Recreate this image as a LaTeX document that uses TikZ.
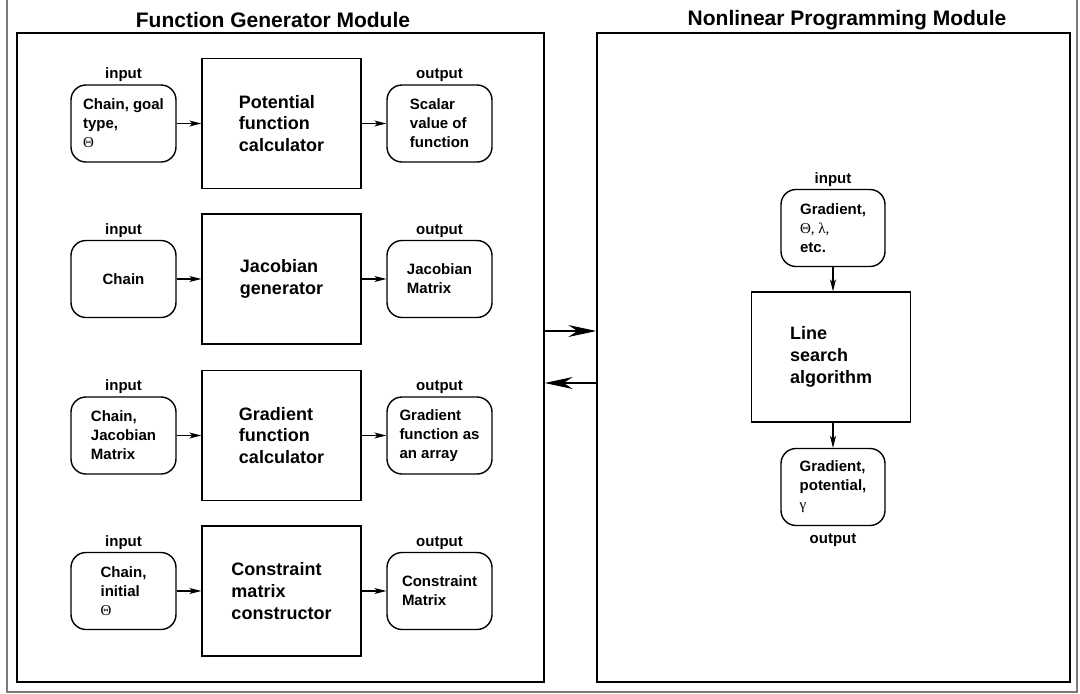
\documentclass[tikz,border=0pt]{standalone}
\usepackage{fontspec}
\setmainfont{Liberation Sans}
\newfontfamily\greekfont{Liberation Serif}
\usetikzlibrary{positioning,arrows.meta}
\definecolor{framegray}{HTML}{7A7A7A}
\tikzset{
  outer/.style={draw=framegray, line width=1.6pt},
  module/.style={draw=black, line width=1.4pt, minimum height=649pt, inner sep=0pt},
  func/.style={draw=black, line width=1.4pt, minimum width=159pt, minimum height=130pt, align=left, inner sep=0pt, font=\fontsize{18}{21.7}\selectfont\bfseries},
  io/.style={draw=black, line width=1.4pt, rounded corners=15pt, minimum width=105pt, minimum height=77pt, align=left, inner sep=0pt, font=\fontsize{15}{19}\selectfont\bfseries},
  lab/.style={font=\fontsize{15}{18}\selectfont\bfseries, inner sep=2pt},
  title/.style={font=\fontsize{21}{25}\selectfont\bfseries},
  flow/.style={draw=black, line width=1.1pt, -{Stealth[length=12pt,width=6pt,inset=3pt]}},
  link/.style={draw=black, line width=1.2pt, -{Stealth[length=28pt,width=12pt,inset=9pt]}},
}
\newcommand{\grk}[1]{{\greekfont\mdseries #1}}

\begin{document}
\begin{tikzpicture}[x=1pt,y=-1pt]
  \useasboundingbox (0,0) rectangle (1080,694);
  \draw[outer] (7,0) -- (7,692) -- (1077,692) -- (1077,0);

  % the two modules
  \node[module, minimum width=527pt] (fgbox) at (280.5,357.5) {};
  \node[module, minimum width=473pt] (nlbox) at (833.5,357.5) {};
  \node[title] (fgtitle) at (273,20) {Function Generator Module};
  \node[title] (nltitle) at (847,20) {Nonlinear Programming Module};

  % function generator rows
  \node[io] (in1) at (123.5,123.5) {Chain, goal\\type,\\\grk{Θ}};
  \node[func] (fn1) at (281.5,123.5) {Potential\\function\\calculator};
  \node[io] (out1) at (439.5,123.5) {Scalar\\value of\\function};

  \node[io] (in2) at (123.5,279) {Chain};
  \node[func] (fn2) at (281.5,279) {Jacobian\\generator};
  \node[io] (out2) at (439.5,279) {Jacobian\\Matrix};

  \node[io] (in3) at (123.5,435.5) {Chain,\\Jacobian\\Matrix};
  \node[func] (fn3) at (281.5,435.5) {Gradient\\function\\calculator};
  \node[io] (out3) at (439.5,435.5) {Gradient\\function as\\an array};

  \node[io] (in4) at (123.5,591) {Chain,\\initial\\\grk{Θ}};
  \node[func] (fn4) at (281.5,591) {Constraint\\matrix\\constructor};
  \node[io] (out4) at (439.5,591) {Constraint\\Matrix};

  \foreach \i in {1,...,4}{
    \node[lab, above=0pt of in\i] (inlab\i) {input};
    \node[lab, above=0pt of out\i] (outlab\i) {output};
    \draw[flow] (in\i) -- (fn\i);
    \draw[flow] (fn\i) -- (out\i);
  }

  % nonlinear programming
  \node[io, minimum width=104pt] (nlin) at (833,228) {Gradient,\\\grk{Θ, λ,}\\etc.};
  \node[func] (search) at (831,357) {Line\\search\\algorithm};
  \node[io, minimum width=104pt] (nlout) at (833,487) {Gradient,\\potential,\\\grk{γ}};
  \node[lab, above=0pt of nlin] (nlinlab) {input};
  \node[lab, below=5pt of nlout] (nloutlab) {output};
  \draw[flow] (nlin) -- (nlin |- search.north);
  \draw[flow] (nlin |- search.south) -- (nlout);

  % between modules
  \draw[link] (fgbox.east |- 0,331) -- (nlbox.west |- 0,331);
  \draw[link] (nlbox.west |- 0,383) -- (fgbox.east |- 0,383);
\end{tikzpicture}
\end{document}
